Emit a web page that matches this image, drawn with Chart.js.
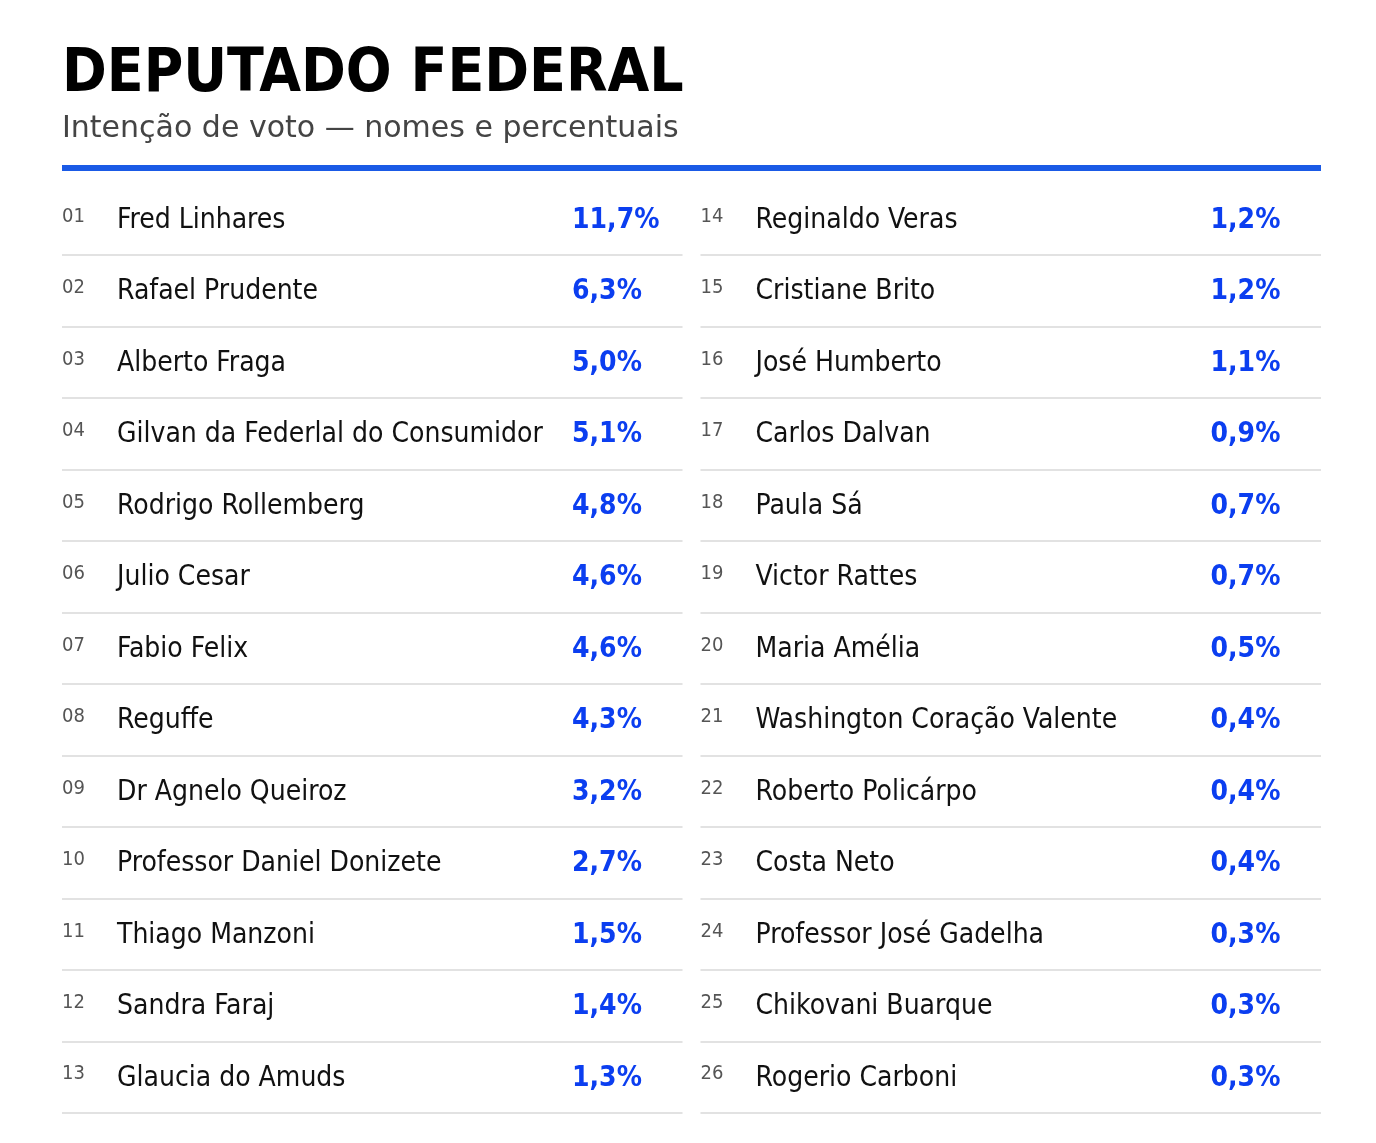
<!DOCTYPE html>
<html>
<head>
<meta charset="utf-8">
<script src="https://cdn.jsdelivr.net/npm/chart.js@4"></script>
<style>
  body { margin: 0; background: #fff; }
  canvas { display: block; }
</style>
</head>
<body>
<canvas id="myChart" width="1376" height="1143"></canvas>
<script>
// candidatos e percentuais, na ordem da tabela
const nomes = [
    'Fred Linhares', 'Rafael Prudente', 'Alberto Fraga', 'Gilvan da Federlal do Consumidor',
    'Rodrigo Rollemberg', 'Julio Cesar', 'Fabio Felix', 'Reguffe', 'Dr Agnelo Queiroz',
    'Professor Daniel Donizete', 'Thiago Manzoni', 'Sandra Faraj', 'Glaucia do Amuds',
    'Reginaldo Veras', 'Cristiane Brito', 'José Humberto', 'Carlos Dalvan', 'Paula Sá',
    'Victor Rattes', 'Maria Amélia', 'Washington Coração Valente', 'Roberto Policárpo',
    'Costa Neto', 'Professor José Gadelha', 'Chikovani Buarque', 'Rogerio Carboni'
];
const percentuais = [
    11.7, 6.3, 5.0, 5.1, 4.8, 4.6, 4.6, 4.3, 3.2, 2.7, 1.5, 1.4, 1.3,
    1.2, 1.2, 1.1, 0.9, 0.7, 0.7, 0.5, 0.4, 0.4, 0.4, 0.3, 0.3, 0.3
];
const linhasPorColuna = 13;

const titulo = 'DEPUTADO FEDERAL';
const subtitulo = 'Intenção de voto — nomes e percentuais';

// cada candidato vira um ponto (coluna, linha)
function pontosColuna(col) {
    const pts = [];
    for (let i = 0; i < linhasPorColuna; i++) {
        const idx = col * linhasPorColuna + i;
        pts.push({ x: col, y: i + 0.5, idx: idx });
    }
    return pts;
}

function fmt(v) {
    return v.toFixed(1).replace('.', ',') + '%';
}

const tabelaPlugin = {
    id: 'tabela',
    beforeDatasetsDraw(chart) {
        const ctx = chart.ctx;
        const area = chart.chartArea;
        const xs = chart.scales.x;
        const ys = chart.scales.y;
        ctx.save();
        // faixa azul sob o subtitulo
        ctx.fillStyle = '#1a5ae6';
        ctx.fillRect(area.left, area.top - 19, area.right - area.left, 6);
        // separadores de linha
        ctx.fillStyle = '#e2e2e2';
        for (let col = 0; col < 2; col++) {
            const x0 = xs.getPixelForValue(col) + (col ? 9 : 0);
            const x1 = xs.getPixelForValue(col + 1) - (col ? 0 : 9);
            for (let i = 1; i <= linhasPorColuna; i++) {
                const y = Math.round(ys.getPixelForValue(i));
                ctx.fillRect(x0, y - 1, x1 - x0, 2);
            }
        }
        ctx.restore();
    },
    afterDatasetsDraw(chart) {
        const ctx = chart.ctx;
        ctx.save();
        ctx.textBaseline = 'middle';
        chart.data.datasets.forEach((ds, d) => {
            const meta = chart.getDatasetMeta(d);
            meta.data.forEach((el, j) => {
                const p = ds.data[j];
                const x = el.x + (d ? 9 : 0);
                const y = el.y;
                ctx.fillStyle = '#555';
                ctx.font = '20px "DejaVu Sans Condensed", "DejaVu Sans"';
                ctx.fillText(String(p.idx + 1).padStart(2, '0'), x, y - 3);
                ctx.fillStyle = '#111';
                ctx.font = '28px "DejaVu Sans Condensed", "DejaVu Sans"';
                ctx.fillText(nomes[p.idx], x + 55, y + 1);
                ctx.fillStyle = '#0b3ef0';
                ctx.font = 'bold 28px "DejaVu Sans Condensed", "DejaVu Sans"';
                ctx.fillText(fmt(percentuais[p.idx]), x + 510, y + 1);
            });
        });
        ctx.restore();
    }
};

const ctx = document.getElementById('myChart').getContext('2d');
const myChart = new Chart(ctx, {
    type: 'scatter',
    data: {
        datasets: [
            { label: 'coluna 1', data: pontosColuna(0), pointRadius: 0 },
            { label: 'coluna 2', data: pontosColuna(1), pointRadius: 0 }
        ]
    },
    options: {
        responsive: false,
        animation: false,
        devicePixelRatio: 1,
        layout: { padding: { top: 39, left: 62, right: 55, bottom: 30 } },
        scales: {
            x: { type: 'linear', min: 0, max: 2, display: false },
            y: { type: 'linear', min: 0, max: linhasPorColuna, reverse: true, display: false }
        },
        plugins: {
            legend: { display: false },
            tooltip: { enabled: false },
            title: {
                display: true,
                text: titulo,
                align: 'start',
                color: '#000',
                font: { family: '"DejaVu Sans Condensed", "DejaVu Sans"', size: 60, weight: 'bold', lineHeight: 1.2 },
                padding: { top: 0, bottom: 0 }
            },
            subtitle: {
                display: true,
                text: subtitulo,
                align: 'start',
                color: '#444',
                font: { family: '"DejaVu Sans"', size: 30, lineHeight: 1.2 },
                padding: { top: 0, bottom: 37 }
            }
        }
    },
    plugins: [tabelaPlugin]
});
</script>
</body>
</html>
